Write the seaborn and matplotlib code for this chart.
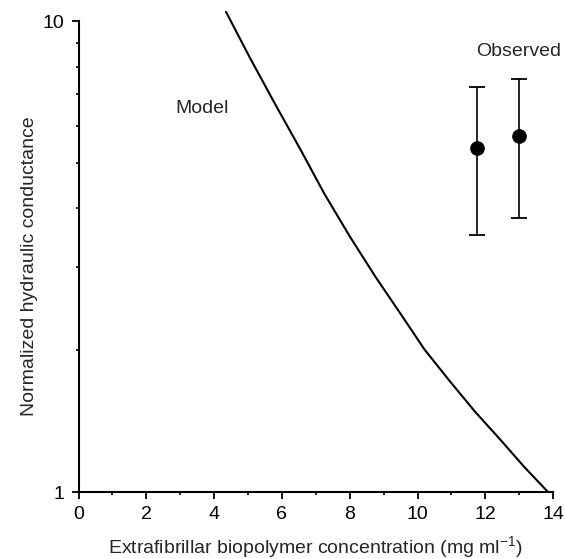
import matplotlib
matplotlib.use("Agg")
import matplotlib.pyplot as plt
import matplotlib.ticker as mticker
import seaborn as sns
import pandas as pd
import numpy as np

# Model curve
model_x = [4.35, 5.05, 5.8, 6.55, 7.25, 8.0, 8.75, 9.5, 10.2, 10.95, 11.7, 12.45, 13.15, 13.85]
model_y = [10.46, 8.37, 6.66, 5.33, 4.30, 3.49, 2.87, 2.39, 2.01, 1.72, 1.48, 1.29, 1.13, 1.0]

# Observed points with error bars
obs_x = [11.76, 13.0]
obs_y = [5.37, 5.70]
obs_lo = [3.51, 3.81]
obs_hi = [7.23, 7.55]

x_ticks = [0, 2, 4, 6, 8, 10, 12, 14]
y_ticks = [1, 10]

sns.set_style("ticks")
plt.rcParams['font.family'] = ['Liberation Sans', 'DejaVu Sans']
plt.rcParams['mathtext.fontset'] = 'custom'
plt.rcParams['mathtext.rm'] = 'Liberation Sans'
plt.rcParams['mathtext.it'] = 'Liberation Sans:italic'
plt.rcParams['mathtext.bf'] = 'Liberation Sans:bold'

fig = plt.figure(figsize=(5.65, 5.59), dpi=100)
ax = fig.add_axes([0.139, 0.1198, 0.840, 0.8426])

model_df = pd.DataFrame({"x": model_x, "y": model_y})
obs_df = pd.DataFrame({"x": obs_x, "y": obs_y})

sns.lineplot(data=model_df, x="x", y="y", ax=ax, color="black", linewidth=1.5,
             sort=False, estimator=None, clip_on=False)

yerr = np.array([np.array(obs_y) - np.array(obs_lo), np.array(obs_hi) - np.array(obs_y)])
ax.errorbar(obs_x, obs_y, yerr=yerr, fmt="none", ecolor="black", elinewidth=1.2,
            capsize=6, capthick=1.3)
sns.scatterplot(data=obs_df, x="x", y="y", ax=ax, color="black", s=95,
                edgecolor="black", zorder=5)

ax.set_yscale("log")
ax.set_xlim(0, 14)
ax.set_ylim(1, 10)

ax.set_xticks(x_ticks)
ax.set_xticklabels([str(t) for t in x_ticks])
ax.xaxis.set_minor_locator(mticker.MultipleLocator(1))
ax.yaxis.set_major_locator(mticker.FixedLocator(y_ticks))
ax.yaxis.set_major_formatter(mticker.FixedFormatter([str(t) for t in y_ticks]))
ax.yaxis.set_minor_locator(mticker.FixedLocator([2, 3, 4, 5, 6, 7, 8, 9]))
ax.yaxis.set_minor_formatter(mticker.NullFormatter())

ax.tick_params(axis="both", which="major", length=5, width=1.3, labelsize=14,
               direction="out", color="black", labelcolor="black", pad=5)
ax.tick_params(axis="both", which="minor", length=2.5, width=1.2, direction="out",
               color="black")

for side in ["top", "right"]:
    ax.spines[side].set_visible(False)
for side in ["left", "bottom"]:
    ax.spines[side].set_linewidth(1.5)
    ax.spines[side].set_color("black")

ax.set_xlabel("Extrafibrillar biopolymer concentration (mg ml$^{-1}$)", fontsize=14,
              va="center")
ax.xaxis.set_label_coords(0.5, -0.117)
ax.set_ylabel("Normalized hydraulic conductance", fontsize=14, va="center")
ax.yaxis.set_label_coords(-0.103, 0.48)

ax.text(3.65, 6.53, "Model", fontsize=14, ha="center", va="center")
ax.text(12.97, 8.61, "Observed", fontsize=14, ha="center", va="center")

fig.savefig("out.png", dpi=100)
